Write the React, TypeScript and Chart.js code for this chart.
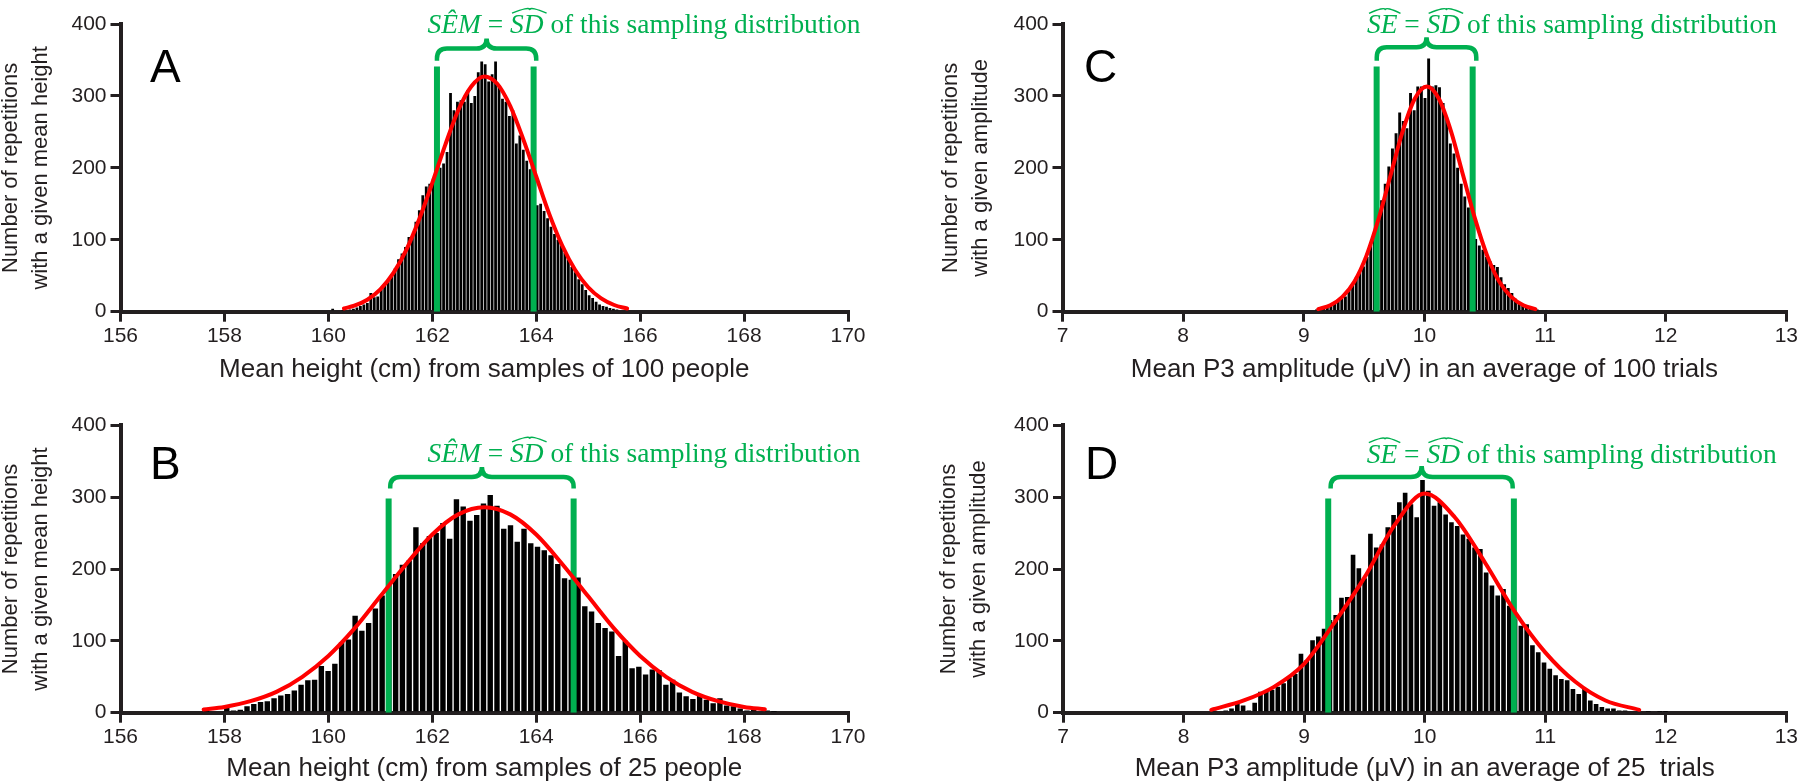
import React, { useEffect, useRef } from 'react';
import { Chart, registerables } from 'chart.js';

Chart.register(...registerables);

const FONT = '"Liberation Sans", Arial, Helvetica, sans-serif';
const SERIF = '"Liberation Serif", "Times New Roman", serif';
const GREEN = '#00b050';
const RED = '#ff0000';
const AXIS = '#231f20';

// ---------------- Panel A: mean height, samples of 100 ----------------
const binStartA = 160.083;
const binWidthA = 0.0667;
const countsA = [
  4, 0, 0, 1, 2, 3, 4, 6, 8, 10, 12, 26, 20, 21, 31, 38, 43, 49, 60, 73,
  81, 90, 104, 107, 125, 141, 162, 174, 178, 185, 195, 200, 206, 222, 304, 280, 292, 294, 292, 308,
  290, 300, 333, 348, 344, 320, 330, 348, 315, 296, 292, 272, 280, 234, 245, 225, 210, 198, 185, 148,
  150, 140, 130, 118, 108, 100, 92, 82, 72, 62, 55, 45, 38, 30, 23, 19, 14, 10, 8, 7,
  5, 4, 3, 2, 2,
];
const curveXA = [160.3, 160.5, 160.75, 161, 161.25, 161.5, 161.75, 162, 162.25, 162.5, 162.75, 163, 163.25, 163.5, 163.75, 164, 164.25, 164.5, 164.75, 165, 165.25, 165.5, 165.75];
const curveYA = [4.5, 8.3, 16.6, 31, 53.5, 86, 129, 179, 232, 280, 313, 327, 317, 286, 240, 188, 136, 92, 58, 34, 18.5, 9.3, 4.4];
const sdLinesA = [162.09, 163.95];
const sdTopA = 341;

// ---------------- Panel B: mean height, samples of 25 ----------------
const binStartB = 157.655;
const binWidthB = 0.13;
const countsB = [
  1, 0, 2,
  10, 3, 4, 9, 12, 15, 16, 20, 24, 26, 31, 39, 45, 46, 65, 58, 68, 98, 102, 135, 114, 125, 145, 163, 185, 193,
  206, 212, 258, 236, 246, 250, 264, 242, 297, 287, 267, 275,
  291, 303, 288, 256, 261, 238, 256, 236, 231, 226, 219, 207, 187, 185, 188, 148, 141, 125, 118, 113,
  79, 100, 62, 64, 53, 60, 59, 39, 46, 28, 23, 19, 24, 18, 13, 20, 10, 9, 6, 3, 4, 2, 3, 1,
];
const curveXB = [157.6, 158, 158.5, 159, 159.5, 160, 160.5, 161, 161.5, 162, 162.5, 163, 163.5, 164, 164.5, 165, 165.5, 166, 166.5, 167, 167.5, 168, 168.4];
const curveYB = [4.4, 8, 16, 29, 50, 79, 117, 162, 207, 248, 276, 286, 276, 248, 207, 162, 117, 79, 50, 29, 16, 8, 4.8];
const sdLinesB = [161.16, 164.72];
const sdTopB = 298;

// ---------------- Panel C: P3 amplitude, 100 trials ----------------
const binStartC = 9.105;
const binWidthC = 0.03;
const countsC = [
  3, 3, 5, 7, 9, 12, 15, 18, 21, 30, 40, 48, 55, 63, 76, 93, 110, 130, 155, 178,
  202, 227, 248, 277, 265, 255, 304, 280, 313, 313, 297, 352, 313, 315, 312, 290, 270, 234, 220, 200,
  178, 160, 145, 125, 101, 92, 86, 76, 70, 65, 62, 48, 38, 33, 26, 18, 12, 9, 7, 5,
  4, 3,
];
const curveXC = [9.12, 9.22, 9.32, 9.42, 9.52, 9.62, 9.72, 9.82, 9.92, 10.02, 10.12, 10.22, 10.32, 10.42, 10.52, 10.62, 10.72, 10.82, 10.92];
const curveYC = [3.5, 8.9, 20.6, 42, 78, 129, 190, 251, 296, 313, 296, 251, 190, 129, 78, 42, 20.6, 8.9, 3.5];
const sdLinesC = [9.604, 10.4];
const sdTopC = 341;

// ---------------- Panel D: P3 amplitude, 25 trials ----------------
const binStartD = 8.254;
const binWidthD = 0.048;
const countsD = [
  3, 2, 3, 6, 13, 10, 3, 14, 29, 29, 32, 36, 41, 49, 54, 82, 73, 101, 106, 117,
  129, 136, 160, 161, 220, 201, 187, 249, 230, 234, 258, 275, 293, 306, 290, 272, 324, 309, 288, 293,
  276, 265, 260, 248, 242, 230, 228, 195, 177, 163, 172, 149, 130, 121, 123, 94, 84, 70, 61, 52,
  47, 45, 33, 26, 33, 17, 12, 8, 6, 6, 3, 3, 2, 2, 0, 1, 0, 1, 1, 0,
  0, 0, 0, 0, 0, 0, 0, 0, 0, 2,
];
const curveXD = [8.23, 8.5, 8.75, 9, 9.25, 9.5, 9.75, 10, 10.25, 10.5, 10.75, 11, 11.25, 11.5, 11.78];
const curveYD = [4, 17, 36, 68, 125, 188, 261, 305, 272, 209, 140, 84, 43, 17, 4];
const sdLinesD = [9.2, 10.74];
const sdTopD = 298;

// ---------------- Tick ranges ----------------
const heightTicks = { min: 156, max: 170, step: 2 };
const ampTicks = { min: 7, max: 13, step: 1 };
const countTicks = { min: 0, max: 400, step: 100 };

type PanelDef = {
  id: string;
  letter: string;
  left: number;
  top: number;
  binStart: number;
  binWidth: number;
  counts: number[];
  curveX: number[];
  curveY: number[];
  sdLines: number[];
  sdTop: number;
  xr: { min: number; max: number; step: number };
  xTitle: string;
  yTitle: string[];
  kind: 'SEM' | 'SE';
  geo: {
    yAxisWidth: number; padRight: number; padTop: number; xAxisHeight: number;
    xTitlePad: number; yTitlePad: number; letterX: number; letterY: number;
    textX: number; textY: number; textW: number;
    braceX1: number; braceX2: number; braceBottom: number; braceMid: number; braceTip: number;
  };
};

const panels: PanelDef[] = [
  {
    id: 'A', letter: 'A', left: 0, top: 0,
    binStart: binStartA, binWidth: binWidthA, counts: countsA, curveX: curveXA, curveY: curveYA,
    sdLines: sdLinesA, sdTop: sdTopA, xr: heightTicks,
    xTitle: 'Mean height (cm) from samples of 100 people',
    yTitle: ['Number of repetitions', 'with a given mean height'],
    kind: 'SEM',
    geo: {
      yAxisWidth: 120.5, padRight: 52, padTop: 24, xAxisHeight: 80.3, xTitlePad: 7, yTitlePad: -4,
      letterX: 150, letterY: 82, textX: 161.908, textY: 387.2, textW: 433,
      braceX1: 162.09, braceX2: 164.0, braceBottom: 349, braceMid: 366, braceTip: 380,
    },
  },
  {
    id: 'B', letter: 'B', left: 0, top: 392,
    binStart: binStartB, binWidth: binWidthB, counts: countsB, curveX: curveXB, curveY: curveYB,
    sdLines: sdLinesB, sdTop: sdTopB, xr: heightTicks,
    xTitle: 'Mean height (cm) from samples of 25 people',
    yTitle: ['Number of repetitions', 'with a given mean height'],
    kind: 'SEM',
    geo: {
      yAxisWidth: 120.5, padRight: 52, padTop: 33.3, xAxisHeight: 71.3, xTitlePad: 0, yTitlePad: -4,
      letterX: 150, letterY: 87, textX: 161.908, textY: 349, textW: 433,
      braceX1: 161.19, braceX2: 164.72, braceBottom: 312, braceMid: 328, braceTip: 342,
    },
  },
  {
    id: 'C', letter: 'C', left: 900, top: 0,
    binStart: binStartC, binWidth: binWidthC, counts: countsC, curveX: curveXC, curveY: curveYC,
    sdLines: sdLinesC, sdTop: sdTopC, xr: ampTicks,
    xTitle: 'Mean P3 amplitude (μV) in an average of 100 trials',
    yTitle: ['Number of repetitions', 'with a given amplitude'],
    kind: 'SE',
    geo: {
      yAxisWidth: 162.5, padRight: 11.4, padTop: 24, xAxisHeight: 80.3, xTitlePad: 7, yTitlePad: 36,
      letterX: 184, letterY: 82, textX: 9.524, textY: 387, textW: 410,
      braceX1: 9.605, braceX2: 10.43, braceBottom: 349, braceMid: 367.6, braceTip: 381.5,
    },
  },
  {
    id: 'D', letter: 'D', left: 900, top: 392,
    binStart: binStartD, binWidth: binWidthD, counts: countsD, curveX: curveXD, curveY: curveYD,
    sdLines: sdLinesD, sdTop: sdTopD, xr: ampTicks,
    xTitle: 'Mean P3 amplitude (μV) in an average of 25  trials',
    yTitle: ['Number of repetitions', 'with a given amplitude'],
    kind: 'SE',
    geo: {
      yAxisWidth: 163, padRight: 11, padTop: 33.3, xAxisHeight: 71.3, xTitlePad: 0, yTitlePad: 34,
      letterX: 185, letterY: 87, textX: 9.52, textY: 348, textW: 410,
      braceX1: 9.22, braceX2: 10.73, braceBottom: 312, braceMid: 328, braceTip: 343.3,
    },
  },
];

function drawGreenLabel(ctx: CanvasRenderingContext2D, x: number, y: number, kind: 'SEM' | 'SE', targetW: number) {
  const size = 27;
  const it = `italic ${size}px ${SERIF}`;
  const up = `${size}px ${SERIF}`;
  const segs: { t: string; f: string; hat?: boolean }[] =
    kind === 'SEM'
      ? [
          { t: 'S', f: it }, { t: 'Ê', f: it }, { t: 'M', f: it },
          { t: ' = ', f: up }, { t: 'SD', f: it, hat: true },
          { t: ' of this sampling distribution', f: up },
        ]
      : [
          { t: 'SE', f: it, hat: true }, { t: ' = ', f: up }, { t: 'SD', f: it, hat: true },
          { t: ' of this sampling distribution', f: up },
        ];
  let total = 0;
  const widths = segs.map((s) => {
    ctx.font = s.f;
    const w = ctx.measureText(s.t).width;
    total += w;
    return w;
  });
  const sx = targetW / total;
  ctx.save();
  ctx.translate(x, y);
  ctx.scale(sx, 1);
  ctx.fillStyle = GREEN;
  ctx.strokeStyle = GREEN;
  ctx.textBaseline = 'alphabetic';
  ctx.textAlign = 'left';
  let cx = 0;
  segs.forEach((s, i) => {
    ctx.font = s.f;
    ctx.fillText(s.t, cx, 0);
    if (s.hat) {
      const w = widths[i];
      const base = -size * 0.74;
      const peak = -size * 0.88;
      ctx.lineWidth = 1.4;
      ctx.beginPath();
      ctx.moveTo(cx + 2, base);
      ctx.quadraticCurveTo(cx + w * 0.5 + 2, peak - 3, cx + w * 0.5 + 3, peak);
      ctx.quadraticCurveTo(cx + w * 0.5 + 4, peak - 3, cx + w + 3, base);
      ctx.stroke();
    }
    cx += widths[i];
  });
  ctx.restore();
}

function makeAnnotPlugin(p: PanelDef) {
  return {
    id: 'annot' + p.id,
    afterDatasetsDraw(chart: any) {
      const { ctx } = chart;
      const xs = chart.scales.x;
      const ys = chart.scales.y;
      const g = p.geo;
      ctx.save();
      // brace above the SD lines
      const x1 = xs.getPixelForValue(g.braceX1);
      const x2 = xs.getPixelForValue(g.braceX2);
      const yb = ys.getPixelForValue(g.braceBottom);
      const yh = ys.getPixelForValue(g.braceMid);
      const yt = ys.getPixelForValue(g.braceTip);
      const xm = (x1 + x2) / 2;
      const r = Math.min(10, yb - yh);
      const rt = yh - yt;
      ctx.strokeStyle = GREEN;
      ctx.lineWidth = 4.5;
      ctx.lineJoin = 'round';
      ctx.lineCap = 'butt';
      ctx.beginPath();
      ctx.moveTo(x1, yb);
      ctx.lineTo(x1, yh + r);
      ctx.quadraticCurveTo(x1, yh, x1 + r, yh);
      ctx.lineTo(xm - rt, yh);
      ctx.quadraticCurveTo(xm, yh, xm, yt);
      ctx.moveTo(x2, yb);
      ctx.lineTo(x2, yh + r);
      ctx.quadraticCurveTo(x2, yh, x2 - r, yh);
      ctx.lineTo(xm + rt, yh);
      ctx.quadraticCurveTo(xm, yh, xm, yt);
      ctx.stroke();
      // green label
      drawGreenLabel(ctx, xs.getPixelForValue(g.textX), ys.getPixelForValue(g.textY), p.kind, g.textW);
      // panel letter
      ctx.fillStyle = '#000';
      ctx.font = `46px ${FONT}`;
      ctx.textBaseline = 'alphabetic';
      ctx.textAlign = 'left';
      ctx.fillText(p.letter, g.letterX, g.letterY);
      ctx.restore();
    },
  };
}

function buildConfig(p: PanelDef): any {
  const g = p.geo;
  const bars = p.counts.map((c, i) => ({ x: +(p.binStart + i * p.binWidth).toFixed(4), y: c }));
  const curve = p.curveX.map((x, i) => ({ x, y: p.curveY[i] }));
  const sdDatasets = p.sdLines.map((x) => ({
    type: 'line',
    data: [{ x, y: 0 }, { x, y: p.sdTop }],
    borderColor: GREEN,
    borderWidth: 6,
    pointRadius: 0,
    borderCapStyle: 'butt',
    fill: false,
    order: 1,
  }));
  const tickFont = { size: 21, family: FONT };
  return {
    type: 'bar',
    data: {
      datasets: [
        {
          type: 'line',
          data: curve,
          borderColor: RED,
          borderWidth: 4,
          pointRadius: 0,
          cubicInterpolationMode: 'monotone',
          borderCapStyle: 'round',
          fill: false,
          order: 0,
        },
        ...sdDatasets,
        {
          type: 'bar',
          data: bars,
          backgroundColor: '#000',
          borderWidth: 0,
          barPercentage: 0.8,
          categoryPercentage: 1,
          order: 2,
        },
      ],
    },
    options: {
      responsive: false,
      animation: false,
      devicePixelRatio: 1,
      events: [],
      layout: { padding: { left: 0, top: g.padTop, right: g.padRight, bottom: 0 } },
      plugins: { legend: { display: false }, tooltip: { enabled: false } },
      scales: {
        x: {
          type: 'linear',
          min: p.xr.min,
          max: p.xr.max,
          offset: false,
          ticks: { stepSize: p.xr.step, font: tickFont, color: AXIS, padding: 2, autoSkip: false, maxRotation: 0 },
          grid: { offset: false, drawOnChartArea: false, drawTicks: true, tickLength: 10, tickWidth: 3, tickColor: AXIS, color: AXIS, lineWidth: 3 },
          border: { display: true, color: AXIS, width: 4 },
          title: {
            display: true,
            text: p.xTitle,
            color: AXIS,
            font: { size: 26, family: FONT },
            padding: { top: 0, bottom: g.xTitlePad },
          },
          afterFit: (s: any) => { s.height = g.xAxisHeight; },
        },
        y: {
          type: 'linear',
          min: countTicks.min,
          max: countTicks.max,
          ticks: { stepSize: countTicks.step, font: tickFont, color: AXIS, padding: 4 },
          grid: { drawOnChartArea: false, drawTicks: true, tickLength: 10, tickWidth: 3, tickColor: AXIS, color: AXIS, lineWidth: 3 },
          border: { display: true, color: AXIS, width: 4 },
          title: {
            display: true,
            text: p.yTitle,
            color: AXIS,
            font: { size: 22, family: FONT, lineHeight: 30 / 22 },
            padding: { top: g.yTitlePad, bottom: 0 },
          },
          afterFit: (s: any) => { s.width = g.yAxisWidth; },
        },
      },
    },
    plugins: [makeAnnotPlugin(p)],
  };
}

function PanelChart({ p }: { p: PanelDef }) {
  const ref = useRef<HTMLCanvasElement>(null);
  useEffect(() => {
    if (!ref.current) return;
    const chart = new Chart(ref.current, buildConfig(p));
    return () => chart.destroy();
  }, [p]);
  return (
    <canvas
      ref={ref}
      width={900}
      height={392}
      style={{ position: 'absolute', left: p.left, top: p.top, width: 900, height: 392, display: 'block' }}
    />
  );
}

export default function App() {
  useEffect(() => {
    document.body.style.margin = '0';
    document.body.style.overflow = 'hidden';
  }, []);
  Chart.defaults.font.family = FONT;
  return (
    <div style={{ position: 'absolute', left: 0, top: 0, width: 1800, height: 784, overflow: 'hidden', background: '#fff' }}>
      {panels.map((p) => (
        <PanelChart key={p.id} p={p} />
      ))}
    </div>
  );
}
